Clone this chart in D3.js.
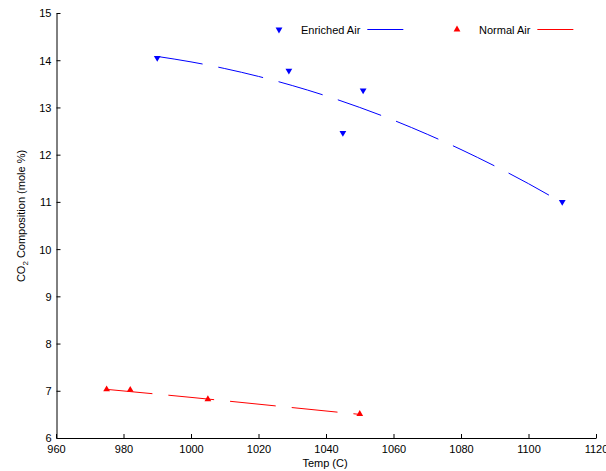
<!DOCTYPE html>
<html>
<head>
<meta charset="utf-8">
<script src="https://cdn.jsdelivr.net/npm/d3@7"></script>
<style>
  html, body { margin: 0; padding: 0; background: #fff; }
  svg { display: block; font-family: "Liberation Sans", Arial, sans-serif; }
</style>
</head>
<body>
<svg id="chart" width="606" height="471"></svg>
<script>
// Measured CO2 composition vs. temperature
const enrichedTemp = [990, 1029, 1045, 1051, 1110];
const enrichedCO2  = [14.05, 13.78, 12.46, 13.36, 11.0];
const normalTemp   = [975, 982, 1005, 1050];
const normalCO2    = [7.03, 7.02, 6.82, 6.51];

// Fitted trend curves (dashed)
const enrichedFitTemp = [990, 1000, 1010, 1020, 1030, 1040, 1050, 1060, 1070, 1080, 1090, 1100, 1110];
const enrichedFitCO2  = [14.08, 13.965, 13.824, 13.657, 13.464, 13.245, 13.0, 12.73, 12.432, 12.109, 11.76, 11.386, 10.98];
const normalFitTemp   = [975, 1000, 1025, 1050];
const normalFitCO2    = [7.03, 6.86, 6.68, 6.50];

// Axis ticks
const xTicks = [960, 980, 1000, 1020, 1040, 1060, 1080, 1100, 1120];
const yTicks = [6, 7, 8, 9, 10, 11, 12, 13, 14, 15];

const seriesNames = ["Enriched Air", "Normal Air"];
const seriesColors = ["#0000ff", "#ff0000"];

const svg = d3.select("#chart");
const plotLeft = 56, plotRight = 596, plotTop = 13, plotBottom = 438;

const x = d3.scaleLinear().domain([960, 1120]).range([plotLeft, plotRight]);
const y = d3.scaleLinear().domain([6, 15]).range([plotBottom, plotTop]);

// Axes: ticks drawn inward
const xAxis = svg.append("g")
  .attr("transform", `translate(0,${plotBottom})`)
  .call(d3.axisBottom(x).tickValues(xTicks).tickSizeInner(-4).tickSizeOuter(0).tickPadding(7).tickFormat(d3.format("d")));
const yAxis = svg.append("g")
  .attr("transform", `translate(${plotLeft + 0.5},0)`)
  .call(d3.axisLeft(y).tickValues(yTicks).tickSizeInner(-4).tickSizeOuter(0).tickPadding(5).tickFormat(d3.format("d")));

[xAxis, yAxis].forEach(g => {
  g.select(".domain").attr("stroke", "#000");
  g.selectAll(".tick line").attr("stroke", "#000");
  g.selectAll(".tick text")
    .attr("fill", "#000")
    .style("font-size", "11px")
    .style("font-family", "'Liberation Sans', Arial, sans-serif");
});
xAxis.selectAll(".tick text").attr("dy", "0.71em");
yAxis.selectAll(".tick text").attr("dy", "0.36em");

// Axis titles
svg.append("text")
  .attr("x", 325).attr("y", 467)
  .attr("text-anchor", "middle")
  .style("font-size", "11px")
  .text("Temp (C)");

const yTitle = svg.append("text")
  .attr("transform", "translate(25,216) rotate(-90)")
  .attr("text-anchor", "middle")
  .style("font-size", "11px");
yTitle.append("tspan").text("CO");
yTitle.append("tspan").attr("dy", 3).style("font-size", "8px").text("2");
yTitle.append("tspan").attr("dy", -3).text(" Composition (mole %)");

// Dashed fit curves
const line = d3.line().x(d => x(d[0])).y(d => y(d[1])).curve(d3.curveMonotoneX);
const fits = [
  d3.zip(enrichedFitTemp, enrichedFitCO2),
  d3.zip(normalFitTemp, normalFitCO2)
];
fits.forEach((pts, i) => {
  svg.append("path")
    .datum(pts)
    .attr("d", line)
    .attr("fill", "none")
    .attr("stroke", seriesColors[i])
    .attr("stroke-width", 1)
    .attr("stroke-dasharray", "46,16");
});

// Markers
const tri = d3.symbol().type(d3.symbolTriangle).size(20);
const points = [
  d3.zip(enrichedTemp, enrichedCO2),
  d3.zip(normalTemp, normalCO2)
];
points.forEach((pts, i) => {
  svg.append("g").selectAll("path")
    .data(pts)
    .join("path")
    .attr("d", tri)
    .attr("fill", seriesColors[i])
    .attr("transform", d => `translate(${x(d[0])},${y(d[1])}) rotate(${i === 0 ? 180 : 0})`);
});

// Legend
const legendX = [279, 457];
seriesNames.forEach((name, i) => {
  const g = svg.append("g").attr("transform", `translate(${legendX[i]},29.5)`);
  g.append("path")
    .attr("d", tri)
    .attr("fill", seriesColors[i])
    .attr("transform", `rotate(${i === 0 ? 180 : 0})`);
  const t = g.append("text")
    .attr("x", 22).attr("y", 4)
    .style("font-size", "11px")
    .text(name);
  const w = t.node().getComputedTextLength();
  g.append("line")
    .attr("x1", 22 + w + 7).attr("x2", 22 + w + 43)
    .attr("y1", 0).attr("y2", 0)
    .attr("stroke", seriesColors[i])
    .attr("stroke-width", 1);
});
</script>
</body>
</html>
